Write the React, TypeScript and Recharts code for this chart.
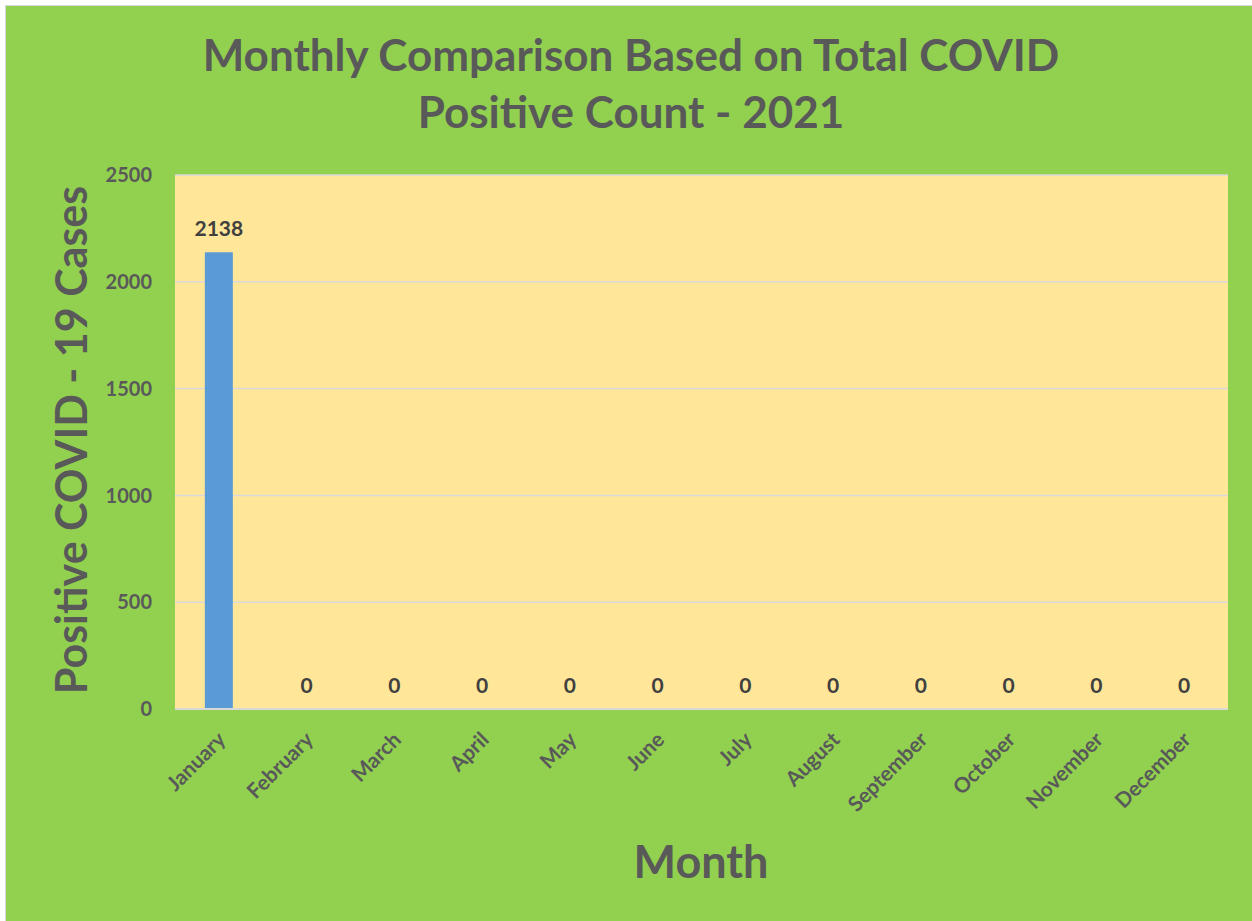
import React from "react";
import { ComposedChart, Bar, Line, XAxis, YAxis, CartesianGrid, LabelList } from "recharts";

// monthly positive covid counts, 2021 (only january has data)
const months = [
  "January", "February", "March", "April", "May", "June",
  "July", "August", "September", "October", "November", "December",
];
const positiveCases = [2138, 0, 0, 0, 0, 0, 0, 0, 0, 0, 0, 0];
const yTicks = [0, 500, 1000, 1500, 2000, 2500];

const data = months.map((m, i) => ({ month: m, cases: positiveCases[i] }));

const FONT = "Lato, 'Open Sans', sans-serif";
const GREY = "#595959";

const MonthTick = (props: any) => {
  const { x, y, payload } = props;
  return (
    <g transform={`translate(${x + 8},${y + 24})`}>
      <text
        textAnchor="end"
        transform="rotate(-45)"
        fontFamily={FONT}
        fontWeight="bold"
        fontSize={21}
        fill={GREY}
      >
        {payload.value}
      </text>
    </g>
  );
};

const App = () => {
  return (
    <div style={{ position: "absolute", left: 0, top: 0, width: 1252, height: 921 }}>
      <div
        style={{
          position: "absolute",
          left: 5,
          top: 5,
          width: 1247,
          height: 916,
          background: "#92D050",
          borderTop: "1px solid #d9d9d9",
          borderLeft: "1px solid #d9d9d9",
          boxSizing: "border-box",
        }}
      />
      <div
        style={{
          position: "absolute",
          left: 0,
          top: 26,
          width: 1262,
          textAlign: "center",
          fontFamily: FONT,
          fontWeight: "bold",
          fontSize: 44,
          lineHeight: "57px",
          color: GREY,
        }}
      >
        Monthly Comparison Based on Total COVID
        <br />
        Positive Count - 2021
      </div>
      <ComposedChart
        width={1252}
        height={921}
        data={data}
        margin={{ top: 175, right: 24, left: 0, bottom: 0 }}
        barCategoryGap="34%"
        style={{ position: "absolute", left: 0, top: 0 }}
      >
        <CartesianGrid vertical={false} stroke="#D9D9D9" strokeWidth={1.5} fill="#FFE699" fillOpacity={1} />
        <XAxis
          dataKey="month"
          height={212}
          interval={0}
          tickLine={false}
          axisLine={{ stroke: "#D9D9D9", strokeWidth: 2 }}
          tick={<MonthTick />}
        />
        <YAxis
          width={175}
          domain={[0, 2500]}
          ticks={yTicks}
          axisLine={false}
          tickLine={false}
          tickSize={0}
          tickMargin={23}
          tick={{ fill: GREY, fontSize: 20, fontWeight: "bold", fontFamily: FONT }}
        />
        <Bar dataKey="cases" fill="#5B9BD5" isAnimationActive={false} />
        {/* invisible line only to carry the data labels (zero bars get no label otherwise) */}
        <Line dataKey="cases" stroke="none" dot={false} activeDot={false} isAnimationActive={false}>
          <LabelList
            dataKey="cases"
            position="top"
            offset={16}
            fill="#404040"
            fontSize={21}
            fontWeight="bold"
            fontFamily={FONT}
          />
        </Line>
      </ComposedChart>
      <div
        style={{
          position: "absolute",
          left: 70,
          top: 440,
          transform: "translate(-50%, -50%) rotate(-90deg)",
          whiteSpace: "nowrap",
          fontFamily: FONT,
          fontWeight: "bold",
          fontSize: 43,
          color: GREY,
        }}
      >
        Positive COVID - 19 Cases
      </div>
      <div
        style={{
          position: "absolute",
          left: 701,
          top: 861,
          transform: "translate(-50%, -50%)",
          whiteSpace: "nowrap",
          fontFamily: FONT,
          fontWeight: "bold",
          fontSize: 45,
          color: GREY,
        }}
      >
        Month
      </div>
    </div>
  );
};

export default App;
